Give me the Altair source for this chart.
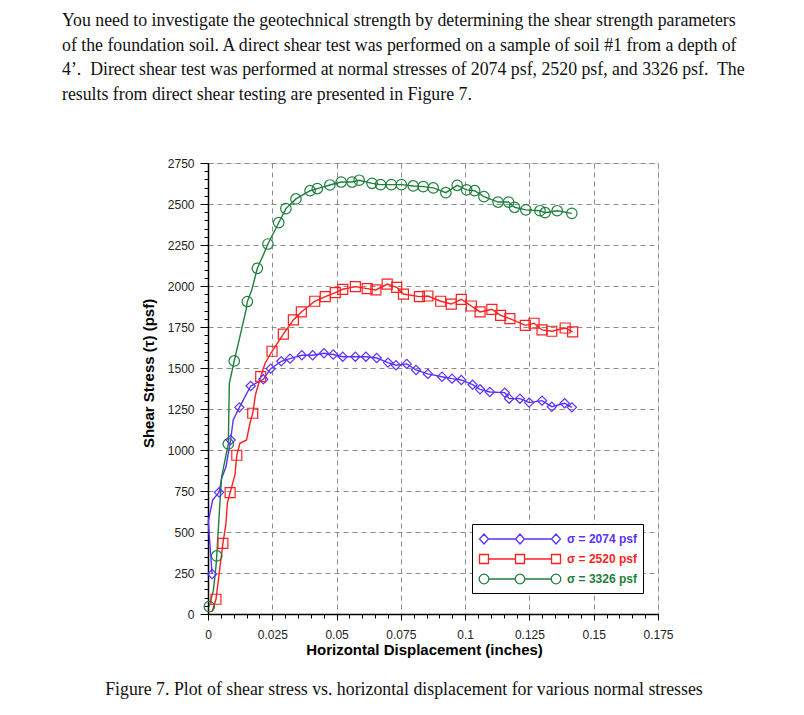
import altair as alt
import pandas as pd

# ---------------- text ----------------
intro_lines = [
    "You need to investigate the geotechnical strength by determining the shear strength parameters",
    "of the foundation soil. A direct shear test was performed on a sample of soil #1 from a depth of",
    "4\u2019.\u00a0 Direct shear test was performed at normal stresses of 2074 psf, 2520 psf, and 3326 psf.\u00a0 The",
    "results from direct shear testing are presented in Figure 7.",
]
caption = "Figure 7. Plot of shear stress vs. horizontal displacement for various normal stresses"
x_title = "Horizontal Displacement (inches)"
y_title = "Shear Stress (\u03c4) (psf)"

series_labels = ["\u03c3 = 2074 psf", "\u03c3 = 2520 psf", "\u03c3 = 3326 psf"]
series_colors = ["#5A32FF", "#FF1F1F", "#1E7F3C"]

x_ticks = [0, 0.025, 0.05, 0.075, 0.1, 0.125, 0.15, 0.175]
y_ticks = [0, 250, 500, 750, 1000, 1250, 1500, 1750, 2000, 2250, 2500, 2750]
x_minor = [round(i * 0.005, 3) for i in range(36)]
y_minor = [i * 50 for i in range(56)]

# ---------------- data: sigma = 2074 psf (diamonds) ----------------
s1_x = [0.0016, 0.0043, 0.0088, 0.0122, 0.0166, 0.0215, 0.0244, 0.0285, 0.0319, 0.0365,
        0.0407, 0.0451, 0.0487, 0.0524, 0.0573, 0.0614, 0.0656, 0.0700, 0.0731, 0.0773,
        0.0809, 0.0855, 0.0910, 0.0949, 0.0985, 0.1029, 0.1058, 0.1096, 0.1154, 0.1171,
        0.1213, 0.1249, 0.1299, 0.1337, 0.1387, 0.1415]
s1_y = [244, 742, 1061, 1260, 1390, 1431, 1496, 1541, 1557, 1578,
        1578, 1590, 1582, 1569, 1569, 1569, 1561, 1533, 1517, 1525,
        1488, 1464, 1447, 1435, 1427, 1398, 1370, 1354, 1350, 1313,
        1313, 1289, 1301, 1264, 1285, 1260]
# line trace of the early part (between markers), then it follows the markers
s1_early_x = [0.0016, 0.0001, 0.0018, 0.0043, 0.0053, 0.0070, 0.0088, 0.0098, 0.0122]
s1_early_y = [244, 563, 695, 742, 827, 898, 1061, 1183, 1260]
s1_join = 4

# ---------------- data: sigma = 2520 psf (squares) ----------------
s2_x = [0.0031, 0.0058, 0.0086, 0.0112, 0.0174, 0.0205, 0.0249, 0.0293, 0.0332, 0.0363,
        0.0415, 0.0456, 0.0495, 0.0524, 0.0573, 0.0619, 0.0653, 0.0697, 0.0734, 0.0760,
        0.0822, 0.0855, 0.0905, 0.0946, 0.0985, 0.1024, 0.1058, 0.1104, 0.1138, 0.1174,
        0.1234, 0.1268, 0.1299, 0.1337, 0.1389, 0.1418]
s2_y = [90, 431, 740, 968, 1224, 1447, 1602, 1707, 1793, 1842,
        1907, 1935, 1959, 1980, 1996, 1984, 1976, 2012, 1992, 1951,
        1935, 1939, 1907, 1890, 1919, 1878, 1842, 1858, 1821, 1801,
        1760, 1773, 1732, 1724, 1744, 1720]
s2_early_x = [0.0016, 0.0031, 0.0058, 0.0070, 0.0075, 0.0086, 0.0105, 0.0112, 0.0124,
              0.0150, 0.0163, 0.0174, 0.0185, 0.0205, 0.0222, 0.0249]
s2_early_y = [14, 90, 431, 553, 675, 740, 850, 968, 1041,
              1061, 1163, 1224, 1340, 1447, 1529, 1602]
s2_join = 7

# ---------------- data: sigma = 3326 psf (circles) ----------------
s3_x = [0.0005, 0.0034, 0.0079, 0.0102, 0.0153, 0.0192, 0.0233, 0.0275, 0.0303, 0.0342,
        0.0397, 0.0425, 0.0474, 0.0518, 0.0560, 0.0588, 0.0638, 0.0671, 0.0713, 0.0752,
        0.0798, 0.0837, 0.0876, 0.0925, 0.0969, 0.1006, 0.1037, 0.1073, 0.1128, 0.1169,
        0.1192, 0.1236, 0.1291, 0.1311, 0.1358, 0.1415]
s3_y = [45, 354, 1037, 1543, 1905, 2108, 2256, 2386, 2472, 2531,
        2581, 2594, 2616, 2634, 2634, 2645, 2626, 2618, 2618, 2618,
        2610, 2606, 2598, 2569, 2614, 2586, 2581, 2545, 2512, 2512,
        2480, 2464, 2459, 2447, 2459, 2443]
s3_early_x = [0.0005, 0.0021, 0.0031, 0.0034, 0.0043, 0.0053, 0.0079, 0.0083, 0.0102,
              0.0124, 0.0148, 0.0153, 0.0170, 0.0192, 0.0218, 0.0233]
s3_early_y = [45, 146, 289, 354, 593, 837, 1037, 1407, 1543,
              1691, 1854, 1905, 1976, 2108, 2200, 2256]
s3_join = 7

marker_shapes = ["diamond", "square", "circle"]
marker_sizes = [85, 100, 110]

# ---------------- build tables ----------------
series = [
    (s1_x, s1_y, s1_early_x, s1_early_y, s1_join),
    (s2_x, s2_y, s2_early_x, s2_early_y, s2_join),
    (s3_x, s3_y, s3_early_x, s3_early_y, s3_join),
]
mrows, lrows = [], []
for label, (mx, my, ex, ey, j) in zip(series_labels, series):
    for a, b in zip(mx, my):
        mrows.append({"x": a, "y": b, "series": label})
    lx = ex + mx[j:]
    ly = ey + my[j:]
    for k, (a, b) in enumerate(zip(lx, ly)):
        lrows.append({"x": a, "y": b, "series": label, "order": k})
markers_df = pd.DataFrame(mrows)
lines_df = pd.DataFrame(lrows)

# ---------------- scales / styles ----------------
FONT = "Liberation Sans"
xs = alt.Scale(domain=[0, 0.175], nice=False, zero=False)
ys = alt.Scale(domain=[0, 2750], nice=False, zero=False)
color_scale = alt.Scale(domain=series_labels, range=series_colors)

main_x_axis = alt.Axis(
    values=x_ticks, format=".3~f", title=x_title, grid=True, gridDash=[5, 4],
    gridColor="#8c8c8c", gridWidth=1, tickSize=6, tickColor="black",
    domainColor="black", domainWidth=1.5, labelFont=FONT, labelFontSize=12,
    labelColor="#222", labelPadding=9, titleFont=FONT, titleFontSize=15,
    titleFontWeight="bold", titleColor="black", titlePadding=2, titleX=216,
    labelFlush=False, labelOverlap=False, orient="bottom",
)
main_y_axis = alt.Axis(
    values=y_ticks, format="d", title=y_title, grid=True, gridDash=[5, 4],
    gridColor="#8c8c8c", gridWidth=1, tickSize=8, tickColor="black",
    domainColor="black", domainWidth=1.5, labelFont=FONT, labelFontSize=12,
    labelColor="#222", labelPadding=6, titleFont=FONT, titleFontSize=15,
    titleFontWeight="bold", titleColor="black", titlePadding=11, titleY=210,
    labelFlush=False, labelOverlap=False, orient="left",
)
minor_x_axis = alt.Axis(values=x_minor, labels=False, grid=False, tickSize=4,
                        tickColor="black", domain=False, title=None, orient="bottom")
minor_y_axis = alt.Axis(values=y_minor, labels=False, grid=False, tickSize=4,
                        tickColor="black", domain=False, title=None, orient="left")

# ---------------- layers ----------------
axes_layer = alt.Chart(markers_df).mark_point(opacity=0).encode(
    x=alt.X("x:Q", scale=xs, axis=main_x_axis),
    y=alt.Y("y:Q", scale=ys, axis=main_y_axis),
)
minor = alt.Chart(markers_df).mark_point(opacity=0).encode(
    x=alt.X("x:Q", scale=xs, axis=minor_x_axis),
    y=alt.Y("y:Q", scale=ys, axis=minor_y_axis),
)

line_layers, marker_layers = [], []
for label, shp, sz, col in zip(series_labels, marker_shapes, marker_sizes, series_colors):
    line_layers.append(
        alt.Chart(lines_df[lines_df["series"] == label]).mark_line(
            strokeWidth=1.4, color=col
        ).encode(
            x=alt.X("x:Q", scale=xs, axis=None),
            y=alt.Y("y:Q", scale=ys, axis=None),
            order=alt.Order("order:Q"),
        )
    )
    marker_layers.append(
        alt.Chart(markers_df[markers_df["series"] == label]).mark_point(
            shape=shp, size=sz, filled=False, strokeWidth=1.2, color=col, opacity=1
        ).encode(
            x=alt.X("x:Q", scale=xs, axis=None),
            y=alt.Y("y:Q", scale=ys, axis=None),
        )
    )

# legend symbols: a line with three hollow markers
def _diamond(cx):
    return f"M{cx-0.56},0L{cx},-0.62L{cx+0.56},0L{cx},0.62Z"

def _square(cx):
    return f"M{cx-0.56},-0.56L{cx+0.56},-0.56L{cx+0.56},0.56L{cx-0.56},0.56Z"

def _circle(cx):
    r = 0.6
    return f"M{cx-r},0A{r},{r},0,1,0,{cx+r},0A{r},{r},0,1,0,{cx-r},0Z"

def _legend_path(fn):
    line = "M-3.94,0L-0.56,0M0.56,0L3.94,0"
    return line + "".join(fn(c) for c in (-4.5, 0, 4.5))

legend_paths = [_legend_path(_diamond), _legend_path(_square), _legend_path(_circle)]

label_color_expr = "[" + ",".join(f"'{c}'" for c in series_colors) + "][indexof([" + \
    ",".join(f"'{s}'" for s in series_labels) + "], datum.value)]"

leg = alt.Legend(
    title=None, orient="none", legendX=264, legendY=361, padding=6,
    strokeColor="black", fillColor="white", symbolSize=256, symbolOffset=33,
    labelOffset=38, rowPadding=3, symbolOpacity=1, symbolStrokeWidth=1.3,
    symbolFillColor="transparent", labelFont=FONT, labelFontSize=12,
    labelFontWeight="bold", labelColor={"expr": label_color_expr}, labelLimit=300,
)

legend_layer = alt.Chart(markers_df).mark_point(opacity=0, filled=False).encode(
    x=alt.X("x:Q", scale=xs, axis=None),
    y=alt.Y("y:Q", scale=ys, axis=None),
    color=alt.Color("series:N", scale=color_scale, legend=leg),
    shape=alt.Shape("series:N", scale=alt.Scale(domain=series_labels, range=legend_paths), legend=leg),
)

one = pd.DataFrame({"k": [0]})
intro = alt.Chart(one).mark_text(
    text=intro_lines, align="left", baseline="alphabetic", font="Liberation Serif",
    fontSize=17.8, lineHeight=24.7, color="#111",
).encode(x=alt.value(-146), y=alt.value(-137))

cap = alt.Chart(one).mark_text(
    text=caption, align="center", baseline="alphabetic", font="Liberation Serif",
    fontSize=17.8, color="#111",
).encode(x=alt.value(196), y=alt.value(532))

chart = alt.layer(
    axes_layer, minor, *line_layers, *marker_layers, legend_layer, intro, cap
).resolve_axis(
    x="independent", y="independent"
).properties(
    width=450, height=451,
    autosize=alt.AutoSizeParams(type="none"),
    padding={"left": 208, "top": 163, "right": 146, "bottom": 101},
).configure_view(
    stroke="black", strokeWidth=1.5
).configure(background="white")

chart.save("out.html", embed_options={"renderer": "svg", "actions": False})
